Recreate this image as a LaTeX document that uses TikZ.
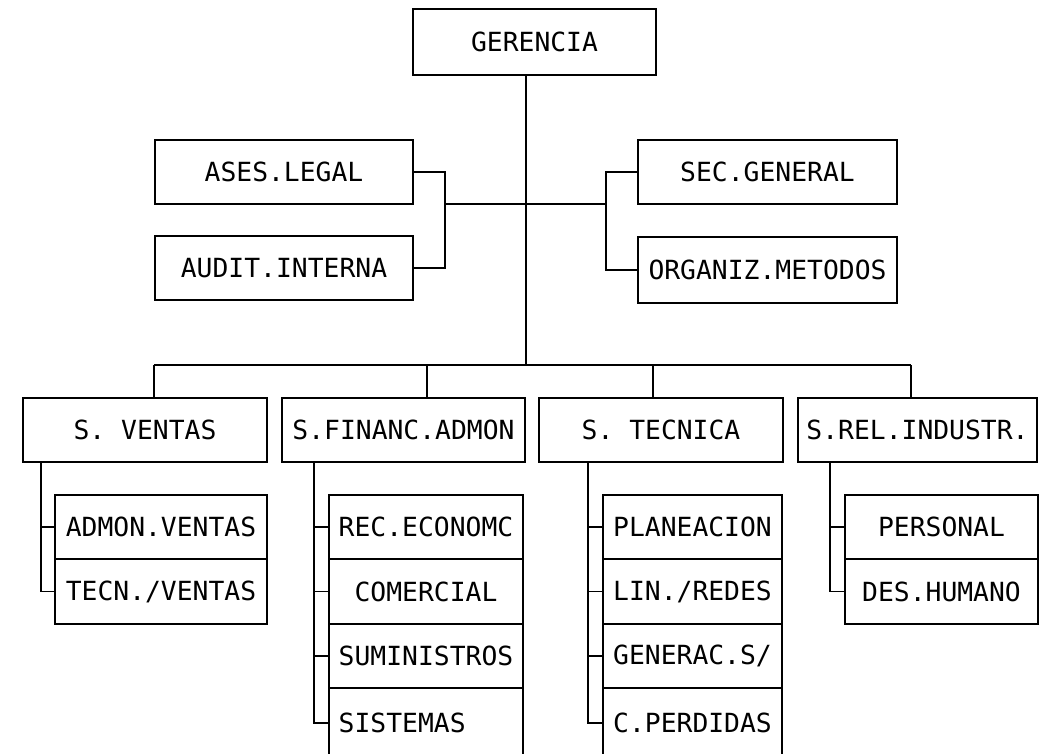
\documentclass[tikz,border=0pt]{standalone}
\usepackage{fontspec}
\newfontfamily\plotfont{DejaVu Sans Mono}
\usepackage{tikz}

\tikzset{
	unit/.style={draw, inner sep=0pt, outer sep=0pt, font=\plotfont\fontsize{15}{18}\selectfont},
	staff/.style={unit, minimum width=5.17cm, minimum height=1.28cm},
	dept/.style={unit, minimum width=4.87cm, minimum height=1.28cm},
	sub/.style={unit, minimum height=1.29cm}
}

\begin{document}
\begin{tikzpicture}[x=0.02cm, y=-0.02cm, line width=1pt]
		\useasboundingbox (0,0) rectangle (1040,753);
		\clip (0,0) rectangle (1040,753);

		\coordinate (bus) at (526, 365);
		\coordinate (lb)  at (445, 204);
		\coordinate (rb)  at (606, 204);

		\coordinate (d1)  at (154, 365);
		\coordinate (d2)  at (427, 365);
		\coordinate (d3)  at (653, 365);
		\coordinate (d4)  at (911, 365);

		\coordinate (b1)  at (41,  0);
		\coordinate (b2)  at (314, 0);
		\coordinate (b3)  at (588, 0);
		\coordinate (b4)  at (830, 0);


		\node [unit, minimum width=4.86cm, minimum height=1.32cm] (ger) at (534.5, 42) {GERENCIA};

		\node [staff] (ases)  at (284,   172) {ASES.LEGAL};
		\node [staff] (audit) at (284,   268) {AUDIT.INTERNA};
		\node [staff] (sec)   at (767.5, 172) {SEC.GENERAL};
		\node [staff, minimum height=1.32cm] (org) at (767.5, 270) {ORGANIZ.METODOS};

		\node [dept] (ventas)  at (145,   430) {S. VENTAS};
		\node [dept] (financ)  at (403.5, 430) {S.FINANC.ADMON};
		\node [dept] (tecnica) at (661,   430) {S. TECNICA};
		\node [dept, minimum width=4.78cm] (indus) at (917.5, 430) {S.REL.INDUSTR.};

		\node [sub, minimum width=4.24cm] (admv) at (161, 527)   {ADMON.VENTAS};
		\node [sub, minimum width=4.24cm] (tecv) at (161, 591.5) {TECN./VENTAS};

		\node [sub, minimum width=3.88cm] (recon) at (426, 527)   {REC.ECONOMC};
		\node [sub, minimum width=3.88cm] (comer) at (426, 591.5) {COMERCIAL};
		\node [sub, minimum width=3.88cm] (sumin) at (426, 656)   {SUMINISTROS};
		\node [sub, minimum width=3.88cm, minimum height=1.4cm] (siste) at (426, 723) {SISTEMAS\phantom{XXX}};

		\node [sub, minimum width=3.58cm] (plan) at (692.5, 527)   {PLANEACION};
		\node [sub, minimum width=3.58cm] (lin)  at (692.5, 591.5) {LIN./REDES};
		\node [sub, minimum width=3.58cm] (gen)  at (692.5, 656)   {GENERAC.S/};
		\node [sub, minimum width=3.58cm, minimum height=1.4cm] (perd) at (692.5, 723) {C.PERDIDAS};

		\node [sub, minimum width=3.86cm] (pers) at (941.5, 527)   {PERSONAL};
		\node [sub, minimum width=3.86cm] (desh) at (941.5, 591.5) {DES.HUMANO};


		\draw (ger.south -| bus) -- (bus);
		\draw (lb) -- (rb);
		\draw (ases.east) -| (lb |- audit.east) -- (audit.east);
		\draw (sec.west) -| (rb |- org.west) -- (org.west);

		\draw (d1) -- (d4);
		\draw (d1) -- (d1 |- ventas.north);
		\draw (d2) -- (d2 |- financ.north);
		\draw (d3) -- (d3 |- tecnica.north);
		\draw (d4) -- (d4 |- indus.north);

		\draw (b1 |- ventas.south) |- (tecv.west);
		\draw (b1 |- admv.west) -- (admv.west);

		\draw (b2 |- financ.south) |- (siste.west);
		\draw (b2 |- recon.west) -- (recon.west);
		\draw (b2 |- comer.west) -- (comer.west);
		\draw (b2 |- sumin.west) -- (sumin.west);

		\draw (b3 |- tecnica.south) |- (perd.west);
		\draw (b3 |- plan.west) -- (plan.west);
		\draw (b3 |- lin.west) -- (lin.west);
		\draw (b3 |- gen.west) -- (gen.west);

		\draw (b4 |- indus.south) |- (desh.west);
		\draw (b4 |- pers.west) -- (pers.west);
	\end{tikzpicture}
\end{document}
